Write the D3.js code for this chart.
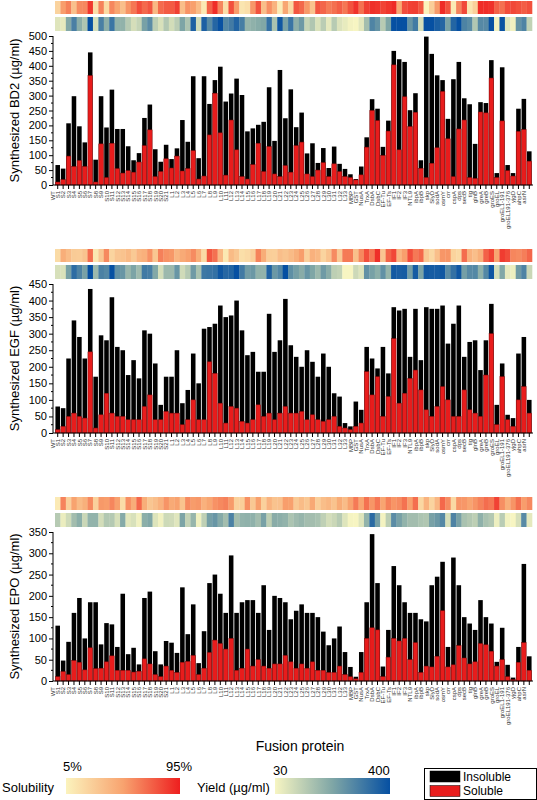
<!DOCTYPE html>
<html><head><meta charset="utf-8">
<script src="https://cdn.jsdelivr.net/npm/d3@7"></script>
<style>body{margin:0;background:#fff}svg{display:block;font-family:"Liberation Sans",Arial,sans-serif}</style>
</head><body>
<svg id="c" width="537" height="800"></svg>
<script>
const proteins = ["WT",
 "S1","S2","S3","S4","S5","S6","S7","S8","S9","S10","S11","S12","S13","S14","S15","S16","S17","S18","S19","S20","S21",
 "L1","L2","L3","L4","L5","L6","L7","L8","L9","L10","L11","L12","L13","L14","L15","L16","L17","L18","L19","L20","L21","L22","L23","L24","L25","L26","L27","L28","L29","L30","L31","L32","L33",
 "MBP","GST","NusA","TrxA","DsbA","DsbC","EF-Tu","EF-Ts","IF1","IF2","IF3","NTL9","ibpA","ibpB","skp","SlyD","sodA","osmY","crr","cspA","dps","secB","tig","glnB","greA","greB","groES","groEL","groEL1-191","groEL191-376","yjgD","ahpC","asrN"];

const bd2Total = [67,55,207,298,197,143,445,85,298,193,320,188,188,130,83,107,225,270,120,78,135,87,123,218,145,365,90,365,272,352,397,280,307,357,302,180,190,202,212,328,148,386,224,321,194,243,106,140,74,124,57,129,71,54,36,20,62,160,288,256,128,216,450,422,413,251,308,83,498,440,368,352,222,355,413,291,271,138,278,275,419,40,395,67,40,256,289,113];
const bd2Soluble = [10,18,97,62,82,62,367,10,138,25,140,55,40,48,43,77,132,185,28,45,88,57,97,47,55,115,20,30,168,308,175,33,218,118,28,20,68,140,45,129,37,28,65,43,132,144,37,28,50,75,28,71,45,28,25,17,34,127,250,216,99,181,403,118,296,196,244,56,25,73,125,314,155,28,188,218,25,22,245,242,359,25,215,48,30,180,186,80];

const egfTotal = [80,75,225,340,290,225,435,170,295,280,410,260,250,175,220,165,310,300,210,85,170,170,250,90,130,240,150,315,320,330,385,350,355,400,310,235,245,185,185,360,245,280,405,265,230,200,250,215,170,240,200,120,110,30,20,95,70,260,225,195,260,180,380,370,375,230,375,220,380,375,375,385,270,330,385,230,275,280,190,280,390,85,210,55,45,240,290,100];
const egfSoluble = [10,20,50,60,50,45,245,15,55,120,60,50,50,40,40,40,80,115,40,40,65,60,60,25,40,100,40,40,215,180,90,30,80,75,35,30,40,85,50,60,40,60,80,60,60,65,40,55,40,35,40,50,20,15,10,20,30,185,115,170,50,110,285,90,120,165,190,130,70,50,80,140,100,50,50,130,70,60,50,175,300,25,170,40,20,100,140,60];

const epoTotal = [130,48,92,160,195,100,185,185,86,136,133,80,205,63,78,39,195,210,70,39,94,90,66,220,110,180,42,117,230,250,205,160,295,160,185,190,190,160,225,120,200,195,185,145,165,180,160,160,150,116,84,100,128,68,33,10,68,185,345,230,34,120,270,225,185,160,160,145,140,225,245,280,80,290,225,150,135,120,190,150,135,45,125,38,8,80,275,58];
const epoSoluble = [10,22,15,48,44,26,78,29,30,45,59,25,25,25,21,23,52,40,15,10,35,25,20,44,46,60,15,30,67,96,88,75,100,25,30,75,35,50,35,30,40,40,60,45,30,40,30,45,25,25,20,20,35,15,10,5,20,100,125,120,10,56,100,94,100,50,90,20,35,33,58,165,33,38,83,54,40,45,88,85,70,35,50,10,3,44,90,25];

const bd2Ticks = [0,50,100,150,200,250,300,350,400,450,500];
const egfTicks = [0,50,100,150,200,250,300,350,400,450];
const epoTicks = [0,50,100,150,200,250,300,350];

const svg = d3.select("#c");
const x = d3.scaleBand().domain(proteins).range([55, 532]).paddingInner(0.16).paddingOuter(0.08);
const solStops = ["#fbf3bd", "#f8a36f", "#ee1f1f"];
const solColor = d3.scaleLinear().domain([0.05, 0.3, 0.95]).range(solStops).clamp(true);
const yieldColor = d3.scaleLinear().domain([30, 215, 400]).range(["#f7f5c2", "#7fa6a6", "#0650a2"]).clamp(true);

function panel(total, soluble, ticks, maxV, stripTop, plotTop, plotBottom, title) {
  const g = svg.append("g");
  const y = d3.scaleLinear().domain([0, maxV]).range([plotBottom, plotTop]);
  const step = x.step();
  const x0 = x.range()[0];
  const cells = proteins.map((p, i) => ({p, t: total[i], s: soluble[i]}));
  g.selectAll(".sol").data(cells).join("rect")
    .attr("x", (d, i) => x0 + i * step).attr("y", stripTop).attr("width", step + 0.3).attr("height", 13)
    .attr("fill", d => solColor(d.s / d.t));
  g.selectAll(".yld").data(cells).join("rect")
    .attr("x", (d, i) => x0 + i * step).attr("y", stripTop + 16).attr("width", step + 0.3).attr("height", 14)
    .attr("fill", d => yieldColor(d.t));
  g.selectAll(".tot").data(cells).join("rect")
    .attr("x", d => x(d.p)).attr("width", x.bandwidth())
    .attr("y", d => y(d.t)).attr("height", d => y(0) - y(d.t)).attr("fill", "#000");
  g.selectAll(".solb").data(cells).join("rect")
    .attr("x", d => x(d.p)).attr("width", x.bandwidth())
    .attr("y", d => y(d.s)).attr("height", d => y(0) - y(d.s))
    .attr("fill", "#e81c1c").attr("stroke", "#8a0b0b").attr("stroke-width", 0.5);
  const ya = d3.axisLeft(y).tickValues(ticks).tickSize(4).tickPadding(2);
  const ga = g.append("g").attr("transform", "translate(53,0)").call(ya);
  ga.select(".domain").attr("d", `M0,${plotBottom}V${plotTop}`);
  ga.selectAll("text").attr("font-size", 11).attr("font-family", "Liberation Sans, Arial, sans-serif").attr("fill", "#000");
  const minor = ticks.slice(0, -1).map(t => t + 25);
  g.append("g").selectAll("line").data(minor).join("line")
    .attr("x1", 51).attr("x2", 53).attr("y1", d => y(d)).attr("y2", d => y(d)).attr("stroke", "#000");
  const xa = d3.axisBottom(x).tickSize(4).tickPadding(3);
  const gx = g.append("g").attr("transform", `translate(0,${plotBottom})`).call(xa);
  gx.select(".domain").attr("d", `M53,0H533`);
  gx.selectAll("text").attr("font-size", 6).attr("font-family", "Liberation Sans, Arial, sans-serif").attr("fill", "#333")
    .attr("transform", "rotate(-90)").attr("text-anchor", "end").attr("dx", "-6").attr("dy", "-3.2").attr("x", 0).attr("y", 0);
  g.append("text").attr("transform", `translate(19,${(plotTop + plotBottom) / 2}) rotate(-90)`)
    .attr("text-anchor", "middle").attr("font-size", 13).text(title);
}

panel(bd2Total, bd2Soluble, bd2Ticks, 500, 1, 36, 185, "Synthesized BD2 (\u00b5g/ml)");
panel(egfTotal, egfSoluble, egfTicks, 450, 249, 284, 433, "Synthesized EGF (\u00b5g/ml)");
panel(epoTotal, epoSoluble, epoTicks, 350, 497, 532, 681, "Synthesized EPO (\u00b5g/ml)");

svg.append("text").attr("x", 300).attr("y", 751).attr("text-anchor", "middle").attr("font-size", 14).text("Fusion protein");

const defs = svg.append("defs");
function grad(id, colors) {
  const lg = defs.append("linearGradient").attr("id", id);
  colors.forEach((c, i) => lg.append("stop").attr("offset", i / (colors.length - 1)).attr("stop-color", c));
}
grad("gs", solStops);
grad("gy", yieldColor.range());
svg.append("rect").attr("x", 66).attr("y", 778).attr("width", 114).attr("height", 16).attr("fill", "url(#gs)");
svg.append("rect").attr("x", 275).attr("y", 778).attr("width", 115).attr("height", 16).attr("fill", "url(#gy)");
const lt = [["5%", 63, 771], ["95%", 166, 771], ["Solubility", 2, 792], ["30", 273, 775], ["400", 368, 775], ["Yield (\u00b5g/ml)", 197, 792]];
lt.forEach(([t, xx, yy]) => svg.append("text").attr("x", xx).attr("y", yy).attr("font-size", 13).text(t));
svg.append("rect").attr("x", 424.5).attr("y", 768.5).attr("width", 112).attr("height", 31).attr("fill", "#fff").attr("stroke", "#000");
const leg = [["Insoluble", "#000", 771], ["Soluble", "#e81c1c", 785.5]];
leg.forEach(([t, c, yy]) => {
  svg.append("rect").attr("x", 430).attr("y", yy).attr("width", 30).attr("height", 11).attr("fill", c).attr("stroke", "#000").attr("stroke-width", 0.5);
  svg.append("text").attr("x", 463).attr("y", yy + 9.5).attr("font-size", 12).text(t);
});
</script>
</body></html>
